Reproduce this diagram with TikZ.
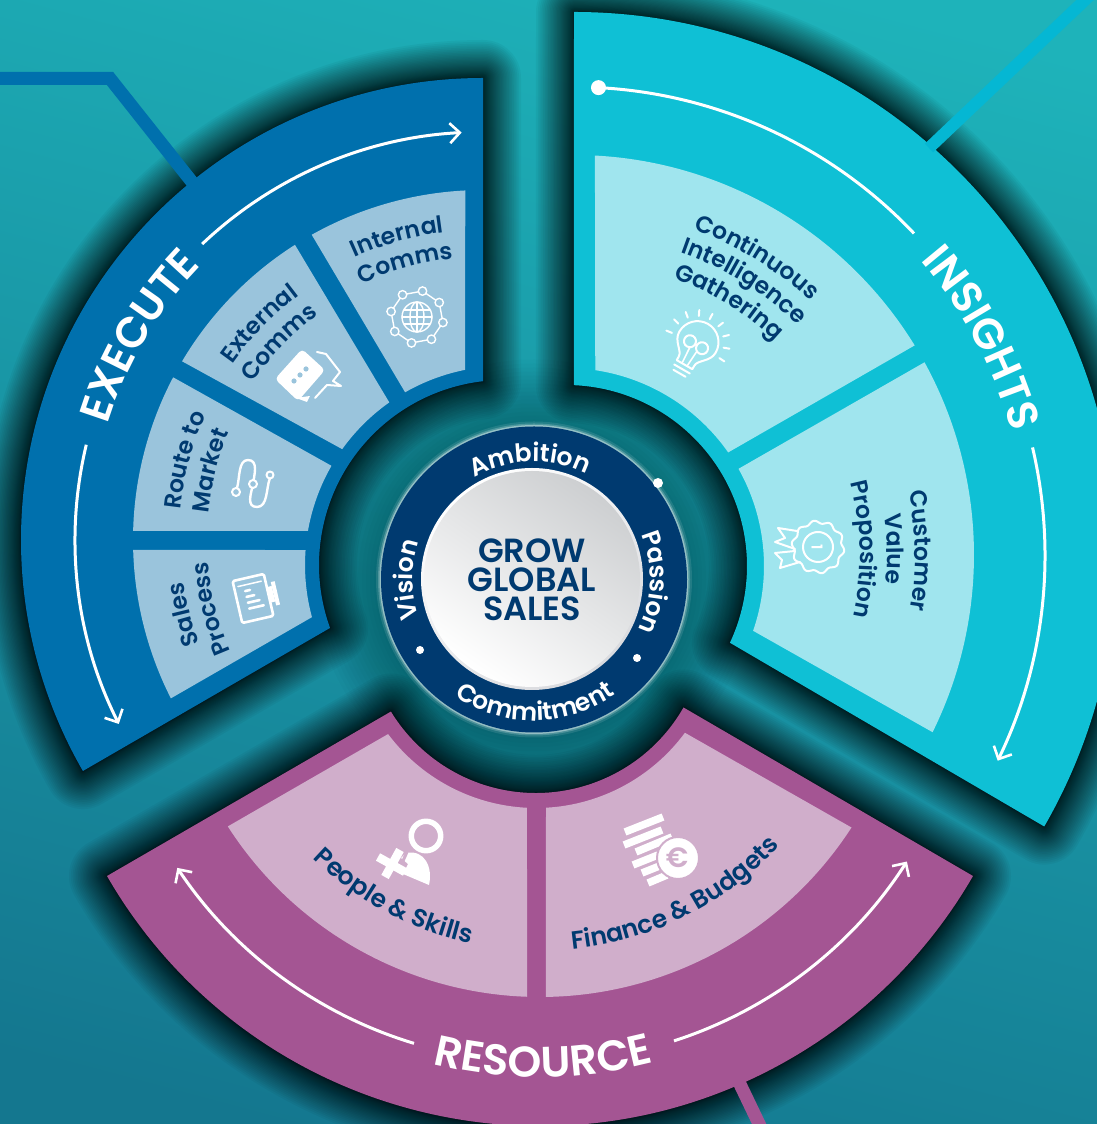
\documentclass[tikz,border=0pt]{standalone}
\usepackage{fontspec}
\setmainfont{Poppins}
\newfontfamily\popm{Poppins SemiBold}
\usetikzlibrary{calc,arrows.meta,decorations.text}
\definecolor{navy}{HTML}{003A70}
\definecolor{bluesec}{HTML}{0070AD}
\definecolor{bluepan}{HTML}{9AC4DC}
\definecolor{cyansec}{HTML}{0FC0D5}
\definecolor{cyanpan}{HTML}{A0E5EE}
\definecolor{cyanline}{HTML}{05B7D3}
\definecolor{pursec}{HTML}{A45593}
\definecolor{purpan}{HTML}{D0AECB}
\definecolor{bgtop}{HTML}{1EB3BA}
\definecolor{bgmid}{HTML}{178A9E}
\definecolor{bgbot}{HTML}{14778F}
\definecolor{rimgrey}{HTML}{D9DADE}
\definecolor{discgrey}{HTML}{CDCFD1}
\newcommand{\fPan}{\popm\fontsize{23.5}{23.5}\selectfont\color{navy}}
\newcommand{\fPanB}{\popm\fontsize{25}{25}\selectfont\color{navy}}
\newcommand{\fRing}{\popm\fontsize{25}{25}\selectfont\color{white}}
\newcommand{\fTitle}{\popm\fontsize{43}{43}\selectfont\color{white}}
\newcommand{\wedgepath}[8]{($(#1)+(#2:#4)$) arc[start angle=#2,end angle=#3,radius=#4] -- ($(#5)+(#6:#8)$) arc[start angle=#6,end angle=#7,radius=#8] -- cycle}
\newcommand{\curvtext}[6]{\path[decorate,decoration={text along path,text align=center,text={|#5|#6}}] ($(#1)+(#2:#4)$) arc[start angle=#2,end angle=#3,radius=#4];}
\newcommand{\secshadow}[1]{\begin{scope}[yshift=-10pt]\foreach \i in {1,...,36}{\pgfmathsetmacro{\w}{76*(\i/36)^1.8}\draw[black,opacity=.04,line width=\w pt,line join=round] #1;}\end{scope}}
\tikzset{
  px/.style={shift={(0pt,1124pt)},y=-1pt},
  whitearc/.style={white,line width=3pt},
  tipped/.style={whitearc,-{Straight Barb[length=10pt,width=20pt,line width=2.6pt]}},
  icon/.style={white,line width=2pt,line cap=round,line join=round},
  thinicon/.style={white,line width=1.4pt,line cap=round,line join=round},
}
\begin{document}
\begin{tikzpicture}[x=1pt,y=1pt]
\useasboundingbox (0,0) rectangle (1097,1124);
\clip (0,0) rectangle (1097,1124);
\coordinate (O) at (534,544.5);
\coordinate (C) at (574,569);
\coordinate (E) at (483,584);
\coordinate (R) at (540,498);
\coordinate (HI) at (566,558);
\coordinate (HE) at (504,559);
\coordinate (HR) at (536,501);
% background
\shade[top color=bgtop,middle color=bgmid,bottom color=bgbot,shading angle=-15] (-60,-60) rectangle (1160,1190);
\foreach \r in {160,164,...,220}{\fill[black,opacity=.016] (O) circle[radius=\r pt];}
% shadows
\secshadow{\wedgepath{C}{90}{-30}{543}{HI}{-25.1}{87.5}{181}}
\secshadow{\wedgepath{E}{90}{210}{462}{HE}{199.9}{96.5}{185}}
\secshadow{\wedgepath{R}{210}{330}{500}{HR}{330.2}{211.4}{170}}
% connector strokes behind the sectors
\coordinate (bl1) at (-10,1045.5);
\coordinate (bl2) at (110,1045.5);
\coordinate (bl3) at (192,942);
\draw[bluesec,line width=13pt] (bl1) -- (bl2) -- (bl3);
\coordinate (pl1) at (738,44);
\coordinate (pl2) at (762,-6);
\draw[pursec,line width=13pt] (pl1) -- (pl2);
% sectors
\fill[cyansec] \wedgepath{C}{90}{-30}{543}{HI}{-25.1}{87.5}{181};
\fill[bluesec] \wedgepath{E}{90}{210}{462}{HE}{199.9}{96.5}{185};
\fill[pursec] \wedgepath{R}{210}{330}{500}{HR}{330.2}{211.4}{170};
\coordinate (cl1) at (929,976);
\coordinate (cl2) at (1103,1141);
\draw[cyanline,line width=12pt] (cl1) -- (cl2);
% panels
\fill[cyanpan] \wedgepath{C}{87}{31.6}{400}{HI}{35}{81.5}{198};
\fill[cyanpan] \wedgepath{C}{28.8}{-26.3}{400}{HI}{-19.1}{29.4}{198};
\fill[bluepan] \wedgepath{E}{92.9}{119.3}{350}{HE}{119.8}{101.3}{199};
\fill[bluepan] \wedgepath{E}{122.5}{149.3}{350}{HE}{144.4}{125.2}{199};
\fill[bluepan] \wedgepath{E}{152.3}{178.5}{350}{HE}{170.1}{150.1}{199};
\fill[bluepan] \wedgepath{E}{181.6}{206.9}{350}{HE}{195.2}{175.7}{199};
\fill[purpan] \wedgepath{R}{212.7}{268}{371}{HR}{267.2}{216.9}{185};
\fill[purpan] \wedgepath{R}{270.9}{327.1}{371}{HR}{323.6}{273.1}{185};
% white arcs
\draw[tipped] ($(E)+(133.5:408)$) arc[start angle=133.5,end angle=93,radius=408];
\draw[tipped] ($(E)+(166.5:408)$) arc[start angle=166.5,end angle=206.8,radius=408];
\draw[whitearc] ($(C)+(87:468)$) arc[start angle=87,end angle=43.4,radius=468];
\fill[white] ($(C)+(87:468)$) circle[radius=7.5pt];
\draw[tipped] ($(C)+(13.2:471)$) arc[start angle=13.2,end angle=-25.9,radius=471];
\draw[tipped] ($(R)+(253.2:436)$) arc[start angle=253.2,end angle=213.7,radius=436];
\draw[tipped] ($(R)+(287.9:436)$) arc[start angle=287.9,end angle=327.3,radius=436];
% titles
\curvtext{E}{189.3}{109.3}{393}{\fTitle}{EXECUTE}
\curvtext{C}{68}{-12}{455}{\fTitle}{INSIGHTS}
\curvtext{R}{230.4}{310.4}{451}{\fTitle}{RESOURCE}
% panel texts
\curvtext{E}{135.8}{75.8}{310}{\fPan}{Internal}
\curvtext{E}{135.7}{75.7}{283}{\fPan}{Comms}
\curvtext{E}{165.9}{105.9}{306}{\fPan}{External}
\curvtext{E}{165.9}{105.9}{279}{\fPan}{Comms}
\curvtext{E}{195}{135}{304}{\fPan}{Route to}
\curvtext{E}{195.7}{135.7}{276}{\fPan}{Market}
\curvtext{E}{224}{164}{302}{\fPan}{Sales}
\curvtext{E}{224.2}{164.2}{276}{\fPan}{Process}
\curvtext{C}{88.4}{28.4}{347}{\fPan}{Continuous}
\curvtext{C}{88.2}{28.2}{321}{\fPan}{Intelligence}
\curvtext{C}{88.5}{28.5}{294}{\fPan}{Gathering}
\curvtext{C}{35.75}{-34.25}{341}{\fPan}{Customer}
\curvtext{C}{36.1}{-33.9}{313}{\fPan}{Value}
\curvtext{C}{36.15}{-33.85}{286}{\fPan}{Proposition}
\curvtext{R}{211.7}{271.7}{325}{\fPanB}{People {\&} Skills}
\curvtext{R}{266.6}{326.6}{325}{\fPanB}{Finance {\&} Budgets}
% central disc
\foreach \w/\o in {10/.1,6/.2,3/.4}{\draw[white,opacity=\o,line width=\w pt] (O) circle[radius=153pt];}
\fill[navy] (O) circle[radius=153pt];
\coordinate (W) at (532,545);
\shade[top color=white,bottom color=rimgrey,shading angle=35] (W) circle[radius=111pt];
\shade[top color=discgrey,bottom color=white,shading angle=-35] (W) circle[radius=108pt];
\curvtext{O}{152}{32}{118}{\fRing}{Ambition}
\curvtext{O}{51}{-54}{116}{\fRing}{Passion}
\curvtext{O}{215.5}{325.5}{141}{\fRing}{Commitment}
\curvtext{O}{230}{130}{121}{\fRing}{Vision}
\node[font=\popm\fontsize{33.5}{29}\selectfont,text=navy,align=center,inner sep=0pt] (core) at (532,544) {GROW\\GLOBAL\\SALES};
% pixel-space icons
\begin{scope}[px]
\fill[white] (658,483) circle[radius=5pt];
\fill[white] (637,658) circle[radius=4pt];
\fill[white] (420,650) circle[radius=4pt];
% globe network
\begin{scope}[shift={(417,317)}]
\draw[thinicon] (0,0) circle[radius=15pt];
\draw[thinicon] (0,0) ellipse[x radius=7pt,y radius=15pt];
\draw[thinicon] (0,-15) -- (0,15) (-15,0) -- (15,0) (-13,-7) -- (13,-7) (-13,7) -- (13,7);
\draw[thinicon] (12:26.5) -- (57:26.5) -- (102:26.5) -- (147:26.5) -- (192:26.5) -- (237:26.5) -- (282:26.5) -- (327:26.5) -- cycle;
\foreach \a in {12,57,...,327}{\filldraw[thinicon,fill=bluepan] (\a:26.5) circle[radius=4.2pt];}
\end{scope}
% chat bubbles
\fill[white,rounded corners=4pt] (302,349) -- (325,370) -- (298,401) -- (275,379) -- cycle;
\fill[white] (296,398) -- (310,396) -- (307,402) -- cycle;
\fill[bluepan] (294,381) circle[radius=2.6pt] (300,375) circle[radius=2.6pt] (306,369) circle[radius=2.6pt];
\draw[icon] (317,352) -- (326,354) -- (340,372) -- (333,381) -- (341,386) -- (327,385) -- (315,398);
% route
\draw[icon,line width=2.4pt] (237,488) .. controls (240,478) and (238,460) .. (248,460) .. controls (259,460) and (254,476) .. (253,484) .. controls (251,494) and (246,507) .. (257,507) .. controls (268,507) and (266,488) .. (270,478);
\filldraw[icon,fill=bluepan] (236,492) circle[radius=4pt] (253,484) circle[radius=4pt] (270,475) circle[radius=3.5pt];
% sales monitor
\begin{scope}[shift={(253,598.5)},rotate=13]
\draw[icon,line width=2.6pt,rounded corners=1.5pt] (-16,-21.5) rectangle (16,21.5);
\draw[icon,line width=1.5pt] (-12,-15) -- (12,-15);
\foreach \yy/\ll in {-9/-1,-3/2,3/6,9/9}{\draw[icon,line width=2.6pt] (-6,\yy) -- (\ll,\yy);}
\fill[white] (16,-8) rectangle (21,8);
\fill[white] (21,-12) rectangle (25,12);
\end{scope}
% bulb
\begin{scope}[shift={(697,343)},rotate=-30]
\draw[icon] (-9,21) .. controls (-9,14) and (-21,10) .. (-21,-1) arc[start angle=180,end angle=360,radius=21] .. controls (21,10) and (9,14) .. (9,21) -- (9,25) -- (-9,25) -- cycle;
\draw[icon] (-7,2) circle[radius=6pt] (7,2) circle[radius=6pt];
\draw[icon,line width=1.6pt] (-4,8) -- (-3,24) (4,8) -- (3,24);
\draw[icon] (-9,30) -- (9,30) (-7,35) -- (7,35);
\foreach \a in {172,196,220,244,268,292,316,340,364}{\draw[icon] (\a:27) -- (\a:33);}
\end{scope}
% rosette
\draw[icon] plot[domain=0:360,samples=120,smooth] ({818+(25+1.5*sin(10*\x))*cos(\x)},{547+(25+1.5*sin(10*\x))*sin(\x)});
\draw[icon] (818,547) circle[radius=15pt];
\node[white,font=\popm\fontsize{15}{15}\selectfont,rotate=-90,inner sep=0pt] (rank) at (817,547) {1};
\draw[icon] (797,531) -- (778,528) -- (785,538) -- (775,542) -- (795,549);
\draw[icon] (795,551) -- (775,553) -- (782,560) -- (780,568) -- (800,562);
% person and plus
\draw[white,line width=5.5pt] (426,836) circle[radius=14.7pt];
\fill[white] (406,853) .. controls (425,849) and (433,868) .. (429,885) -- (403,874) -- (408,864) -- (401,858) -- cycle;
\draw[purpan,line width=3pt] (407,852) -- (398,872);
\draw[white,line width=8.5pt] (378,857) -- (405,872) (400,850) -- (385,877);
% coins
\draw[white,line width=7.5pt] (625,832) -- (663,817) (624,845) -- (662,830) (636,852) -- (672,837) (633,865) -- (658,855) (642,873) -- (662,865) (648,883) -- (667,875);
\filldraw[white,draw=purpan,line width=2pt] (678,858) circle[radius=21pt];
\node[text=purpan,font=\popm\fontsize{28}{28}\selectfont,inner sep=0pt] (euro) at (677,858) {€};
\end{scope}
\end{tikzpicture}
\end{document}
